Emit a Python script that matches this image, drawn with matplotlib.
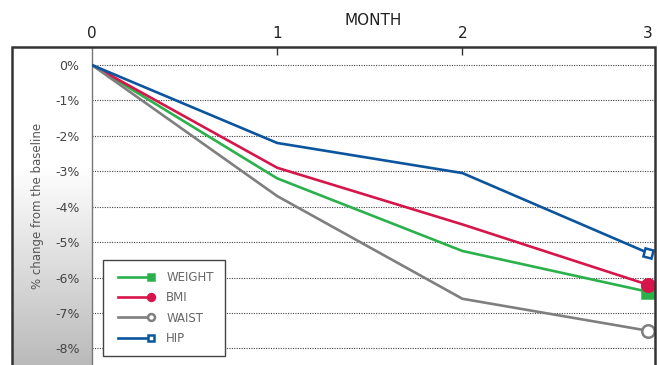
"""Percent change from baseline over three months for weight, BMI, waist and hip."""

import matplotlib.pyplot as plt
import numpy as np
from matplotlib.legend_handler import HandlerLine2D
from matplotlib.patches import Rectangle

months = [0, 1, 2, 3]
month_labels = ["0", "1", "2", "3"]
weight = [0.0, -3.2, -5.25, -6.4]
bmi = [0.0, -2.9, -4.5, -6.2]
waist = [0.0, -3.7, -6.6, -7.5]
hip = [0.0, -2.2, -3.05, -5.3]
y_ticks = [0, -1, -2, -3, -4, -5, -6, -7, -8]


class EndMarker(HandlerLine2D):
    # legend handle with an upright marker at the right end of the line
    def create_artists(self, *args, **kwargs):
        arts = super().create_artists(*args, **kwargs)
        for a in arts:
            a.set_markevery([-1])
            if a.get_marker() not in ("o", "s", "None", None, ""):
                a.set_marker("s")
        return arts


W, H = 660, 365
fig = plt.figure(figsize=(W / 100, H / 100), dpi=100)
plt.rcParams["font.family"] = ["DejaVu Sans"]

# left gray gradient panel
pan = fig.add_axes([12 / W, 0, 80 / W, 1 - 47 / H])
shade = np.concatenate([np.ones(120), np.linspace(1.0, 0.73, 198)])
pan.imshow(np.repeat(shade[:, None, None], 3, axis=2), aspect="auto",
           extent=[0, 1, 0, 1], origin="upper", interpolation="bilinear")
pan.set_axis_off()

ax = fig.add_axes([92 / W, 0, 563 / W, 1 - 47 / H])
ax.set_facecolor("none")
series = [
    ("WEIGHT", weight, "#2bb14c", "s", "#2bb14c"),
    ("BMI", bmi, "#d6164a", "o", "#d6164a"),
    ("WAIST", waist, "#7f7f80", "o", "white"),
    ("HIP", hip, "#0b559e", (4, 0, 30), "white"),
]
for name, vals, col, mk, fc in series:
    ax.plot(months, vals, color=col, lw=1.9, marker=mk, markevery=[-1],
            ms=9 if mk == "o" else 8.5, mfc=fc, mec=col, mew=1.8,
            label=name, zorder=3)

ax.set_xlim(0, 3.04)
ax.set_ylim(-8.47, 0.51)
ax.set_yticks(y_ticks)
ax.set_yticklabels([f"{v}%" for v in y_ticks], fontsize=9, color="#444")
ax.tick_params(axis="y", length=0, pad=9)
ax.yaxis.grid(True, linestyle=(0, (1, 1.2)), color="#444", lw=0.8)

ax.xaxis.tick_top()
ax.set_xticks(months)
ax.set_xticklabels(month_labels, fontsize=11, color="#222")
ax.tick_params(axis="x", direction="in", length=6, width=1, color="#333", pad=4)
xt = ax.xaxis.get_major_ticks()
for t in (xt[0], xt[-1]):
    t.tick2line.set_visible(False)
ax.set_xlabel("MONTH", fontsize=11, color="#222", labelpad=1)
ax.xaxis.set_label_position("top")

for s in ("bottom", "right", "top"):
    ax.spines[s].set_visible(False)
ax.spines["left"].set_color("#777")
ax.spines["left"].set_linewidth(1.0)

ax.set_ylabel("% change from the baseline", fontsize=8.5, color="#555")
ax.yaxis.set_label_coords(-0.085, 0.5)

leg = ax.legend(loc="lower left", bbox_to_anchor=(0.0195, 0.028),
                borderaxespad=0, fancybox=False, framealpha=1,
                edgecolor="#444", fontsize=8.5, labelspacing=0.62,
                handlelength=3.4, handletextpad=1.0, borderpad=0.95,
                markerscale=0.55, numpoints=2,
                handler_map={plt.Line2D: EndMarker()})
leg.get_frame().set_linewidth(1.0)
for t in leg.get_texts():
    t.set_color("#666")

# outer frame
fig.add_artist(Rectangle((12 / W, -0.01), (655 - 12) / W, 1 - 47 / H + 0.01,
                         transform=fig.transFigure, fill=False,
                         edgecolor="#333", lw=1.8, zorder=5))

fig.savefig("out.png", dpi=100)
